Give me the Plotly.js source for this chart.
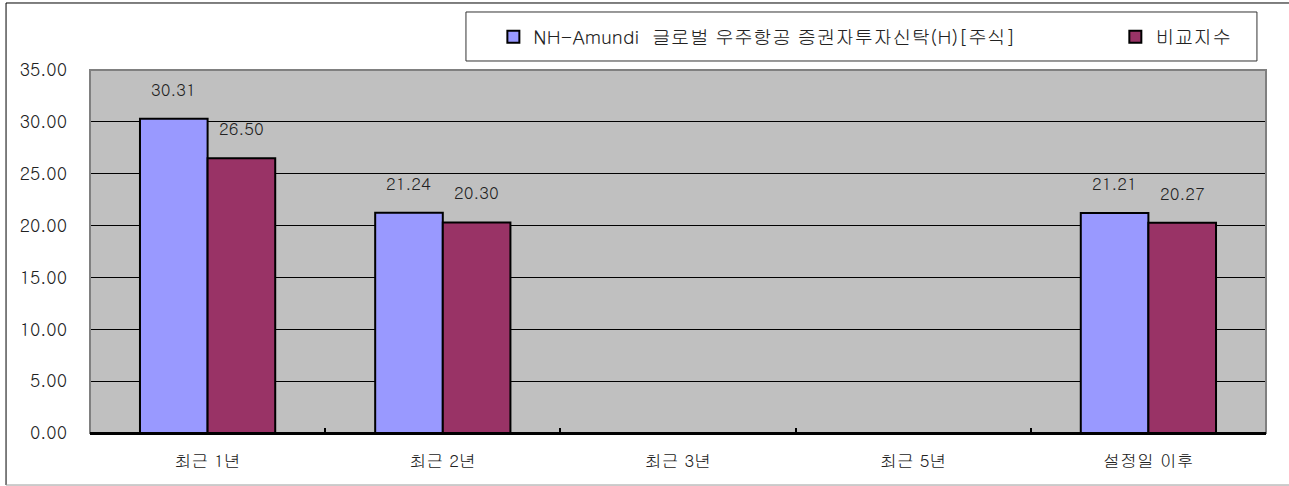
<!DOCTYPE html>
<html><head><meta charset="utf-8">
<script src="https://cdn.plot.ly/plotly-3.0.1.min.js"></script>
<style>html,body{margin:0;padding:0;background:#fff}#c{width:1289px;height:486px}</style>
</head><body><div id="c"></div>
<script>
const categories = ['최근 1년','최근 2년','최근 3년','최근 5년','설정일 이후'];
const fundName = 'NH-Amundi  글로벌 우주항공 증권자투자신탁(H)[주식]';
const benchName = '비교지수';
const fundValues = [30.31, 21.24, null, null, 21.21];
const benchValues = [26.50, 20.30, null, null, 20.27];
const yTicks = [0,5,10,15,20,25,30,35];

const font = "Gulim, 'Noto Sans CJK KR', 'DejaVu Sans', sans-serif";
const fmt = v => v.toFixed(2);
const pad = '\u00a0'.repeat(15);

const traces = [
  {type:'bar', name:fundName + pad, x:categories, y:fundValues,
   marker:{color:'#9999FF', line:{color:'#000', width:2}}},
  {type:'bar', name:benchName, x:categories, y:benchValues,
   marker:{color:'#993366', line:{color:'#000', width:2}}}
];

const annotations = [];
[[fundValues,-34],[benchValues,34]].forEach(([vals,dx]) => {
  vals.forEach((v,i) => {
    if (v == null) return;
    annotations.push({x:categories[i], y:v, xref:'x', yref:'y', text:fmt(v),
      showarrow:false, xshift:dx, yshift:16, yanchor:'bottom',
      font:{size:17, family:font, color:'#222'}});
  });
});

const layout = {
  width:1289, height:486,
  margin:{l:90, r:23, t:70, b:53, autoexpand:false},
  paper_bgcolor:'#fff', plot_bgcolor:'#C0C0C0',
  font:{family:font, size:17, color:'#222'},
  barmode:'group', bargap:0.425, bargroupgap:0,
  showlegend:true,
  legend:{orientation:'h', x:0.343, xanchor:'left', y:1.091, yanchor:'middle',
    bgcolor:'rgba(0,0,0,0)', borderwidth:0,
    font:{size:19, family:font, color:'#222'}, itemwidth:30, traceorder:'normal'},
  xaxis:{type:'category', showgrid:false, showline:true, linecolor:'#000', linewidth:2,
    ticks:'inside', tickson:'boundaries', ticklen:5, tickcolor:'#000', tickwidth:2,
    ticklabelstandoff:12,
    tickfont:{size:17, family:font, color:'#222'}, fixedrange:true},
  yaxis:{range:[0,35], tickvals:yTicks, ticktext:yTicks.map(v=>v.toFixed(2)),
    showgrid:true, gridcolor:'#000', gridwidth:1, zeroline:false,
    showline:false, ticks:'', ticklen:0, ticklabelstandoff:22,
    tickfont:{size:18, family:font, color:'#222'}, fixedrange:true},
  annotations:annotations,
  shapes:[
    {type:'rect', xref:'paper', yref:'paper', x0:0, x1:1, y0:0, y1:1,
     line:{color:'#808080', width:2}, layer:'above'},
    {type:'line', xref:'paper', yref:'paper', x0:0, x1:1, y0:0, y1:0,
     line:{color:'#000', width:2}, layer:'above'},
    {type:'rect', xref:'paper', yref:'paper', x0:0.3197, x1:0.9923, y0:1.0248, y1:1.1598,
     line:{color:'#333', width:1}, fillcolor:'rgba(0,0,0,0)', layer:'below'},
    {type:'line', xref:'paper', yref:'paper', x0:-0.0714, x1:1.02, y0:1.1846, y1:1.1846,
     line:{color:'#000', width:1}},
    {type:'line', xref:'paper', yref:'paper', x0:-0.0714, x1:-0.0714, y0:-0.1433, y1:1.1846,
     line:{color:'#000', width:1}},
    {type:'line', xref:'paper', yref:'paper', x0:-0.0714, x1:1.02, y0:-0.1433, y1:-0.1433,
     line:{color:'#999', width:1}}
  ]
};
Plotly.newPlot('c', traces, layout, {displayModeBar:false, staticPlot:true});
</script></body></html>
